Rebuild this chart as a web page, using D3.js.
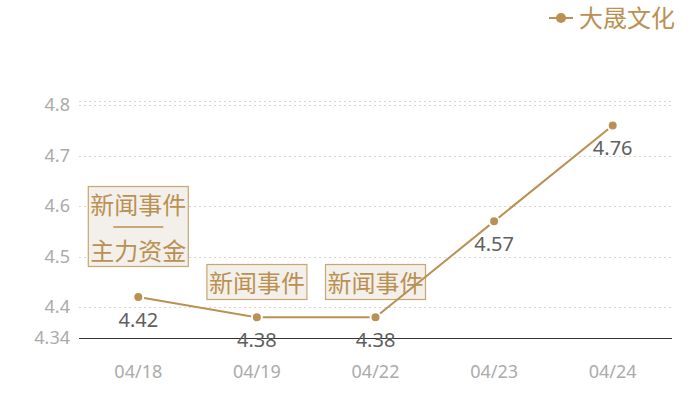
<!DOCTYPE html>
<html>
<head>
<meta charset="utf-8">
<script src="https://cdn.jsdelivr.net/npm/d3@7"></script>
<style>
  body { margin: 0; background: #fff; }
  svg text { font-family: "Noto Sans", "Noto Sans CJK SC", sans-serif; }
</style>
</head>
<body>
<svg id="chart" width="700" height="400"></svg>
<script>
// data
var dates = ['04/18', '04/19', '04/22', '04/23', '04/24'];
var prices = [4.42, 4.38, 4.38, 4.57, 4.76];
var yTicks = [4.34, 4.4, 4.5, 4.6, 4.7, 4.8];
var yMin = 4.34, yMax = 4.8076;
var seriesName = '大晟文化';
var events = [
  { date: '04/18', lines: ['新闻事件', '———', '主力资金'] },
  { date: '04/19', lines: ['新闻事件'] },
  { date: '04/22', lines: ['新闻事件'] }
];

var gold = '#ba9152';
var svg = d3.select('#chart');

var x = d3.scaleBand().domain(dates).range([79, 672]);
var y = d3.scaleLinear().domain([yMin, yMax]).range([337.5, 101.4]);

// grid
var grid = svg.append('g');
grid.selectAll('line')
  .data(yTicks.filter(function(d){ return d > yMin; }).concat([yMax]))
  .enter().append('line')
  .attr('x1', 79).attr('x2', 672)
  .attr('y1', function(d){ return Math.round(y(d)) + 0.5; })
  .attr('y2', function(d){ return Math.round(y(d)) + 0.5; })
  .style('stroke', '#d4d4d4')
  .style('stroke-dasharray', '2,3');

// y labels
svg.append('g').selectAll('text')
  .data(yTicks)
  .enter().append('text')
  .attr('x', 70)
  .attr('y', function(d){ return y(d) + 6; })
  .attr('text-anchor', 'end')
  .style('font-size', '18px')
  .style('fill', '#ababab')
  .text(function(d){ return d === yMin ? d.toFixed(2) : d3.format('.1f')(d); });

// x axis line
svg.append('line')
  .attr('x1', 79).attr('x2', 672)
  .attr('y1', Math.round(y(yMin)) + 0.5).attr('y2', Math.round(y(yMin)) + 0.5)
  .style('stroke', '#333').style('stroke-width', 1);

// x labels
svg.append('g').selectAll('text')
  .data(dates)
  .enter().append('text')
  .attr('x', function(d){ return x(d) + x.bandwidth() / 2; })
  .attr('y', 378)
  .attr('text-anchor', 'middle')
  .style('font-size', '18px')
  .style('fill', '#ababab')
  .text(function(d){ return d; });

// annotation boxes
var ev = svg.append('g').selectAll('g')
  .data(events)
  .enter().append('g');
ev.append('rect')
  .attr('x', function(d){ return x(d.date) + x.bandwidth() / 2 - 50; })
  .attr('y', function(d){ return d.lines.length > 1 ? 186.5 : 264.5; })
  .attr('width', 100)
  .attr('height', function(d){ return d.lines.length > 1 ? 80 : 35; })
  .style('fill', '#f3f0eb')
  .style('stroke', '#c8a76f')
  .style('stroke-width', 1.2);
ev.each(function(d){
  var g = d3.select(this);
  var cx = x(d.date) + x.bandwidth() / 2;
  var top = d.lines.length > 1 ? 186.5 : 264.5;
  d.lines.forEach(function(t, i){
    if (t === '———') {
      g.append('line')
        .attr('x1', cx - 25).attr('x2', cx + 25)
        .attr('y1', top + 40.5).attr('y2', top + 40.5)
        .style('stroke', gold).style('stroke-width', 1.5);
      return;
    }
    g.append('text')
      .attr('x', cx)
      .attr('y', d.lines.length > 1 ? (i === 0 ? top + 27 : top + 73) : top + 27)
      .attr('text-anchor', 'middle')
      .style('font-family', '"Noto Sans CJK SC", sans-serif')
      .style('font-size', '24px')
      .style('fill', gold)
      .text(t);
  });
});

// line
var line = d3.line()
  .x(function(d, i){ return x(dates[i]) + x.bandwidth() / 2; })
  .y(function(d){ return y(d); });
svg.append('path')
  .datum(prices)
  .attr('d', line)
  .style('fill', 'none')
  .style('stroke', gold)
  .style('stroke-width', 2);

// points
svg.append('g').selectAll('circle')
  .data(prices)
  .enter().append('circle')
  .attr('cx', function(d, i){ return x(dates[i]) + x.bandwidth() / 2; })
  .attr('cy', function(d){ return y(d); })
  .attr('r', 5)
  .style('fill', gold)
  .style('stroke', '#fff')
  .style('stroke-width', 2);

// value labels
svg.append('g').selectAll('text')
  .data(prices)
  .enter().append('text')
  .attr('x', function(d, i){ return x(dates[i]) + x.bandwidth() / 2; })
  .attr('y', function(d){ return y(d) + 30; })
  .attr('text-anchor', 'middle')
  .style('font-size', '20px')
  .style('fill', '#606060')
  .text(function(d){ return d.toFixed(2); });

// legend
var lg = svg.append('g');
lg.append('line')
  .attr('x1', 549).attr('x2', 573).attr('y1', 18).attr('y2', 18)
  .style('stroke', gold).style('stroke-width', 2);
lg.append('circle')
  .attr('cx', 561).attr('cy', 18).attr('r', 5)
  .style('fill', gold);
lg.append('text')
  .attr('x', 579).attr('y', 27)
  .style('font-family', '"Noto Sans CJK SC", sans-serif')
  .style('font-size', '24px')
  .style('fill', gold)
  .text(seriesName);
</script>
</body>
</html>
